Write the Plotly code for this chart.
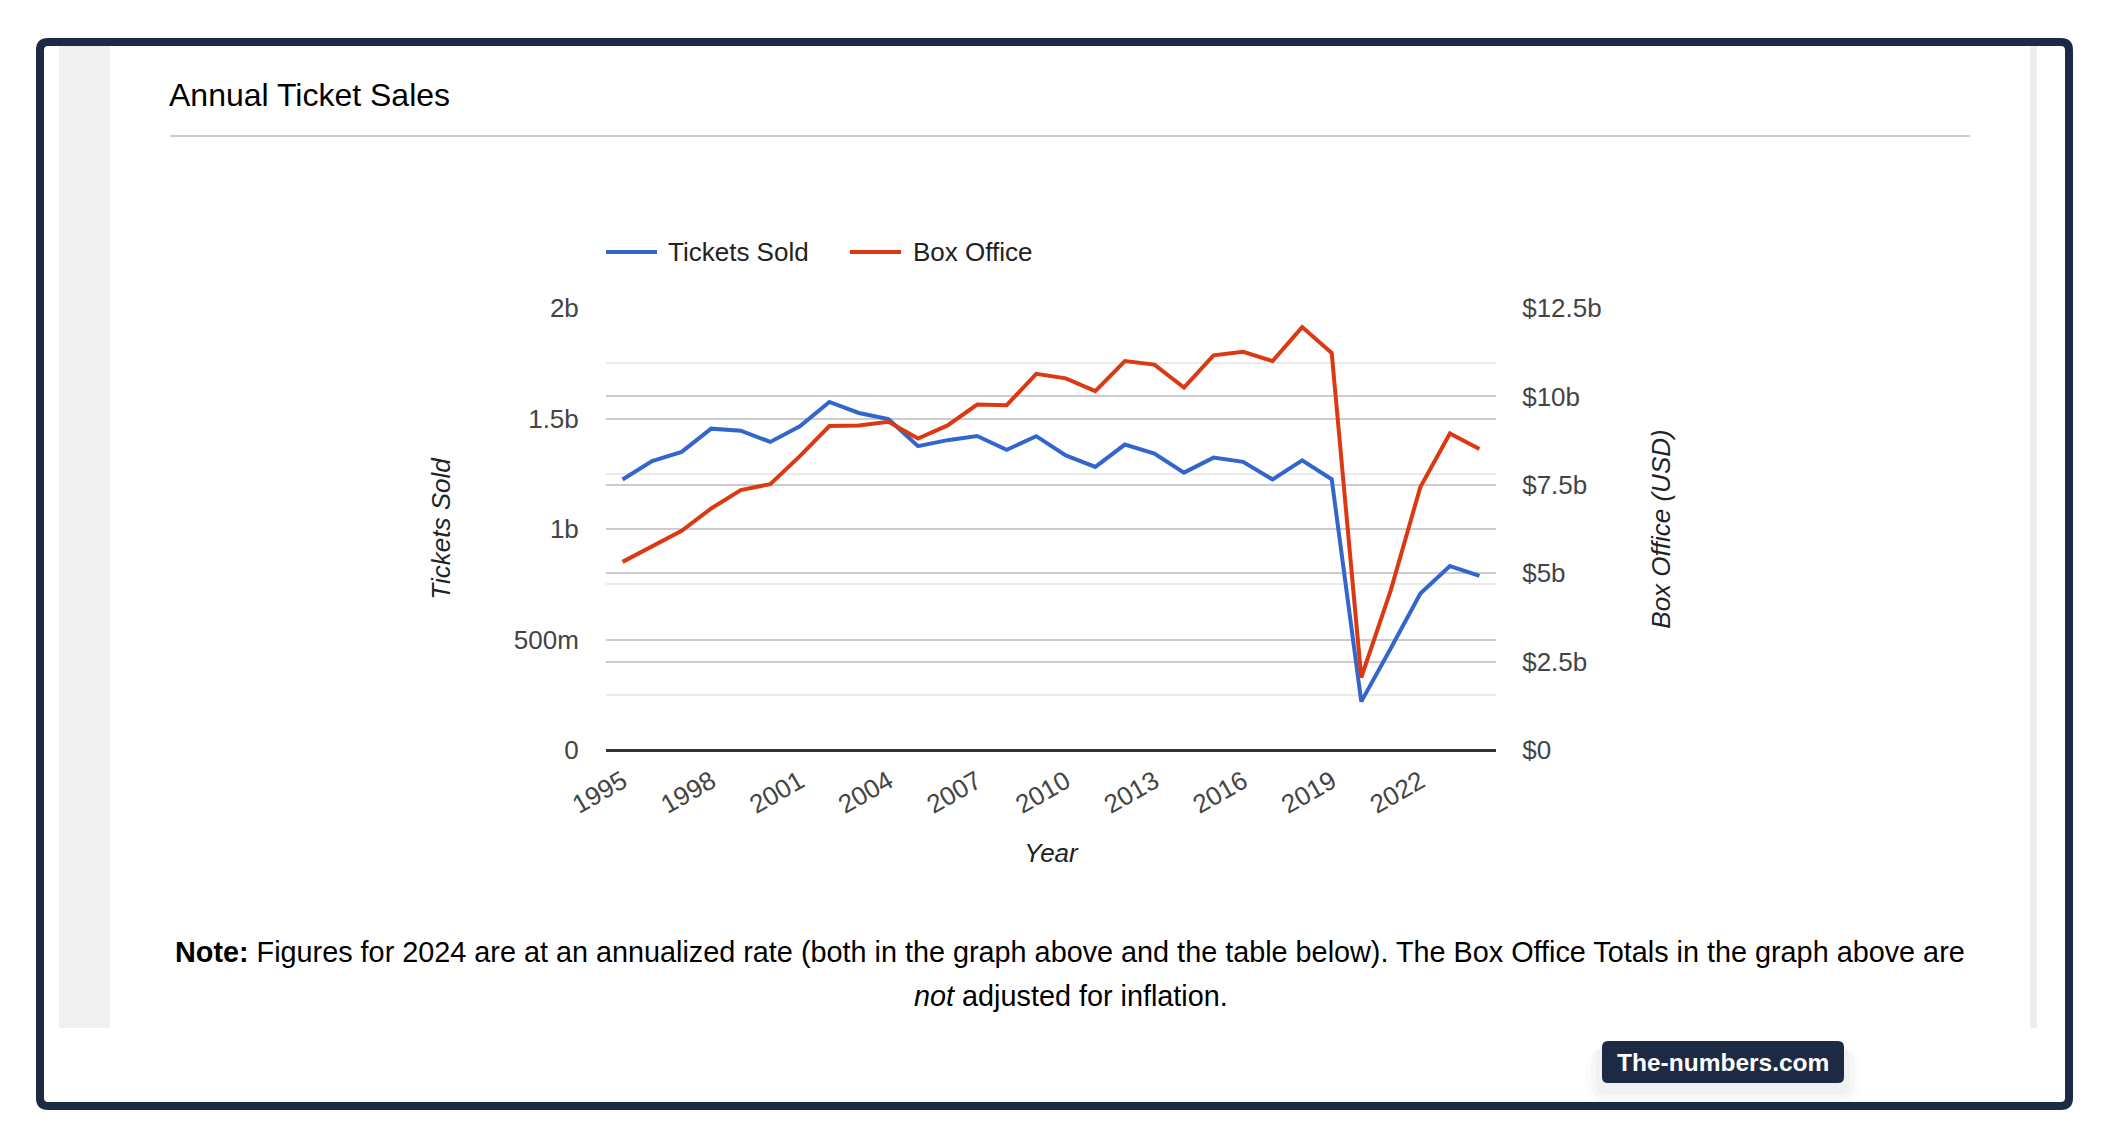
import plotly.graph_objects as go

# ---- data ----
years = [1995, 1996, 1997, 1998, 1999, 2000, 2001, 2002, 2003, 2004,
         2005, 2006, 2007, 2008, 2009, 2010, 2011, 2012, 2013, 2014,
         2015, 2016, 2017, 2018, 2019, 2020, 2021, 2022, 2023, 2024]

# billions of tickets
tickets_sold = [1.224, 1.307, 1.349, 1.454, 1.445, 1.394, 1.465, 1.575, 1.525, 1.497,
                1.375, 1.402, 1.421, 1.358, 1.420, 1.333, 1.281, 1.382, 1.341, 1.255,
                1.323, 1.304, 1.224, 1.311, 1.225, 0.219, 0.460, 0.708, 0.832, 0.788]

# billions of USD
box_office = [5.32, 5.77, 6.20, 6.83, 7.35, 7.52, 8.31, 9.16, 9.18, 9.28,
              8.81, 9.18, 9.77, 9.75, 10.64, 10.51, 10.15, 11.00, 10.90, 10.25,
              11.16, 11.26, 11.00, 11.96, 11.23, 2.05, 4.52, 7.44, 8.95, 8.51]

x_ticks = [1995, 1998, 2001, 2004, 2007, 2010, 2013, 2016, 2019, 2022]
left_ticks = [0, 0.5, 1, 1.5, 2]
left_labels = ["0", "500m", "1b", "1.5b", "2b"]
left_minor = [0.25, 0.75, 1.25, 1.75]
right_ticks = [0, 2.5, 5, 7.5, 10, 12.5]
right_labels = ["$0", "$2.5b", "$5b", "$7.5b", "$10b", "$12.5b"]

BLUE = "#3366cc"
RED = "#dc3912"
NAVY = "#1d2a43"
FONT = "Liberation Sans, Arial, Helvetica, sans-serif"
CHART_FS = 26  # chart text size (ticks, legend, axis titles)

# page geometry in pixels; plot area box
W, H = 2110, 1147
L, R, T, B = 606, 1496, 308, 750


def X(px):
    return (px - L) / (R - L)


def Y(py):
    return (B - py) / (B - T)


def rrect(x0, y0, x1, y1, r):
    return (
        f"M {X(x0 + r)},{Y(y0)} L {X(x1 - r)},{Y(y0)} "
        f"Q {X(x1)},{Y(y0)} {X(x1)},{Y(y0 + r)} L {X(x1)},{Y(y1 - r)} "
        f"Q {X(x1)},{Y(y1)} {X(x1 - r)},{Y(y1)} L {X(x0 + r)},{Y(y1)} "
        f"Q {X(x0)},{Y(y1)} {X(x0)},{Y(y1 - r)} L {X(x0)},{Y(y0 + r)} "
        f"Q {X(x0)},{Y(y0)} {X(x0 + r)},{Y(y0)} Z"
    )


fig = go.Figure()

fig.add_trace(go.Scatter(x=years, y=tickets_sold, name="Tickets Sold", mode="lines",
                         line=dict(color=BLUE, width=4), yaxis="y"))
fig.add_trace(go.Scatter(x=years, y=box_office, name="Box Office", mode="lines",
                         line=dict(color=RED, width=4), yaxis="y2"))

shapes = []
# page chrome: grey side strips, dark rounded frame, title rule
shapes.append(dict(type="rect", xref="paper", yref="paper", x0=X(59), x1=X(110),
                   y0=Y(1028), y1=Y(46), fillcolor="#f0f0f0", line_width=0, layer="below"))
shapes.append(dict(type="rect", xref="paper", yref="paper", x0=X(2030), x1=X(2037),
                   y0=Y(1028), y1=Y(46), fillcolor="#eeeeee", line_width=0, layer="below"))
shapes.append(dict(type="path", xref="paper", yref="paper", path=rrect(40, 42, 2069, 1106, 8),
                   line=dict(color=NAVY, width=8)))
shapes.append(dict(type="line", xref="paper", yref="paper", x0=X(170), x1=X(1970),
                   y0=Y(136), y1=Y(136), line=dict(color="#cccccc", width=2)))
# legend swatches
shapes.append(dict(type="line", xref="paper", yref="paper", x0=X(606), x1=X(657),
                   y0=Y(252), y1=Y(252), line=dict(color=BLUE, width=4)))
shapes.append(dict(type="line", xref="paper", yref="paper", x0=X(850), x1=X(901),
                   y0=Y(252), y1=Y(252), line=dict(color=RED, width=4)))
# badge with soft shadow
for grow, alpha in [(16, 0.012), (11, 0.018), (6, 0.025)]:
    shapes.append(dict(type="path", xref="paper", yref="paper",
                       path=rrect(1602 - grow, 1041 + 6, 1844 + grow, 1083 + grow + 6, 6 + grow),
                       fillcolor=f"rgba(0,0,0,{alpha})", line_width=0))
shapes.append(dict(type="path", xref="paper", yref="paper", path=rrect(1602, 1041, 1844, 1083, 6),
                   fillcolor=NAVY, line_width=0))

annotations = [
    dict(x=X(167), y=Y(95), text="Annual Ticket Sales", xanchor="left", yanchor="middle",
         font=dict(size=32, color="#000000")),
    dict(x=X(666), y=Y(252), text="Tickets Sold", xanchor="left", yanchor="middle",
         font=dict(size=CHART_FS, color="#222222")),
    dict(x=X(911), y=Y(252), text="Box Office", xanchor="left", yanchor="middle",
         font=dict(size=CHART_FS, color="#222222")),
    dict(x=X(1070), y=Y(952),
         text="<b>Note:</b> Figures for 2024 are at an annualized rate (both in the graph above "
              "and the table below). The Box Office Totals in the graph above are",
         xanchor="center", yanchor="middle", font=dict(size=28.8, color="#000000")),
    dict(x=X(1071), y=Y(996), text="<i>not</i> adjusted for inflation.",
         xanchor="center", yanchor="middle", font=dict(size=28.8, color="#000000")),
    dict(x=X(1723), y=Y(1062), text="<b>The-numbers.com</b>", xanchor="center", yanchor="middle",
         font=dict(size=24.5, color="#ffffff")),
]
for a in annotations:
    a.update(xref="paper", yref="paper", showarrow=False)

fig.update_layout(
    width=W,
    height=H,
    margin=dict(l=L, r=W - R, t=T, b=H - B, pad=0),
    paper_bgcolor="white",
    plot_bgcolor="white",
    showlegend=False,
    font=dict(family=FONT, size=CHART_FS, color="#444444"),
    shapes=shapes,
    annotations=annotations,
    xaxis=dict(
        range=[1994.44, 2024.56],
        tickvals=x_ticks,
        tickangle=-30,
        showgrid=False,
        zeroline=False,
        showline=False,
        ticks="outside",
        ticklen=5,
        tickcolor="rgba(0,0,0,0)",
        tickfont=dict(size=CHART_FS, color="#444444"),
        title=dict(text="<i>Year</i>", font=dict(size=CHART_FS, color="#222222"), standoff=25),
    ),
    yaxis=dict(
        range=[0, 2],
        tickvals=left_ticks,
        ticktext=left_labels,
        showgrid=True,
        gridcolor="#cccccc",
        gridwidth=2,
        minor=dict(tickvals=left_minor, showgrid=True, gridcolor="#ebebeb", gridwidth=2),
        zeroline=True,
        zerolinecolor="#333333",
        zerolinewidth=3,
        ticks="outside",
        ticklen=21,
        tickcolor="rgba(0,0,0,0)",
        tickfont=dict(size=CHART_FS, color="#444444"),
        title=dict(text="<i>Tickets Sold</i>", font=dict(size=CHART_FS, color="#222222"), standoff=55),
    ),
    yaxis2=dict(
        range=[0, 12.5],
        overlaying="y",
        side="right",
        tickvals=right_ticks,
        ticktext=right_labels,
        showgrid=True,
        gridcolor="#cccccc",
        gridwidth=2,
        zeroline=False,
        ticks="outside",
        ticklen=20,
        tickcolor="rgba(0,0,0,0)",
        tickfont=dict(size=CHART_FS, color="#444444"),
        title=dict(text="<i>Box Office (USD)</i>", font=dict(size=CHART_FS, color="#222222"), standoff=51),
    ),
)

fig.write_html(
    "out.html",
    config={"displayModeBar": False},
    post_script="document.body.style.margin='0';document.body.style.overflow='hidden';",
)
